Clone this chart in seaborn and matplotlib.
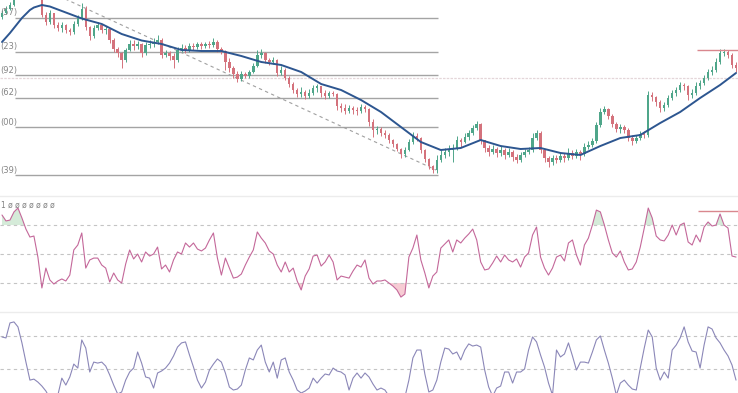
import numpy as np
import matplotlib
matplotlib.use("Agg")
import matplotlib.pyplot as plt
import matplotlib.transforms as mtransforms
import seaborn as sns

# candles (price units), open of each bar = previous close
first_open = 183
closes = [187, 191, 195, 205, 212, 218, 220, 217, 215, 208,
          185, 178, 187, 175, 172, 175, 170, 168, 176, 182,
          191, 173, 164, 172, 175, 170, 171, 160, 151, 147,
          140, 150, 156, 154, 156, 147, 155, 156, 158, 160,
          145, 147, 144, 140, 150, 152, 150, 154, 153, 156,
          154, 156, 155, 158, 151, 149, 138, 132, 126, 121,
          126, 124, 128, 134, 145, 147, 140, 138, 140, 127,
          130, 122, 116, 110, 106, 108, 104, 107, 112, 114,
          107, 104, 107, 106, 94, 92, 89, 92, 90, 89,
          93, 91, 78, 70, 71, 67, 65, 60, 56, 51,
          46, 50, 58, 64, 62, 50, 41, 34, 30, 40,
          45, 48, 50, 52, 60, 58, 63, 67, 72, 76,
          60, 52, 48, 51, 47, 50, 45, 48, 43, 40,
          45, 48, 50, 62, 67, 50, 42, 38, 42, 40,
          44, 42, 47, 44, 48, 46, 53, 55, 59, 75,
          88, 91, 84, 76, 71, 73, 70, 62, 59, 62,
          66, 65, 105, 103, 98, 92, 95, 102, 107, 110,
          115, 114, 105, 107, 114, 117, 122, 128, 130, 138,
          147, 148, 145, 135, 132]
highs = [190, 194, 198, 208, 215, 222, 224, 221, 218, 210,
         208, 188, 190, 187, 178, 178, 176, 172, 179, 185,
         197, 194, 174, 175, 178, 176, 174, 172, 162, 153,
         148, 152, 160, 160, 159, 157, 158, 160, 162, 165,
         162, 150, 149, 147, 153, 156, 155, 157, 157, 158,
         158, 158, 159, 162, 160, 153, 150, 142, 134, 129,
         129, 128, 130, 137, 150, 151, 148, 142, 143, 141,
         134, 132, 124, 118, 112, 113, 110, 111, 115, 116,
         114, 110, 109, 109, 107, 97, 96, 95, 94, 93,
         96, 95, 92, 81, 74, 73, 70, 67, 61, 57,
         52, 53, 61, 68, 67, 63, 51, 42, 35, 45,
         50, 52, 55, 56, 64, 62, 67, 70, 75, 79,
         77, 60, 55, 55, 53, 54, 52, 52, 50, 46,
         48, 51, 53, 67, 70, 69, 51, 44, 45, 45,
         47, 47, 52, 50, 51, 50, 57, 59, 62, 78,
         92, 94, 92, 86, 78, 76, 75, 72, 65, 65,
         69, 69, 109, 108, 104, 100, 98, 105, 110, 113,
         118, 117, 115, 111, 118, 120, 125, 131, 134, 142,
         151, 151, 150, 147, 138]
lows = [181, 186, 190, 194, 203, 210, 216, 215, 213, 206,
        183, 175, 176, 172, 169, 168, 167, 165, 166, 174,
        180, 170, 160, 162, 170, 167, 166, 157, 148, 143,
        132, 138, 149, 150, 151, 143, 145, 152, 153, 156,
        142, 143, 140, 132, 138, 148, 147, 148, 150, 151,
        151, 152, 152, 153, 148, 146, 130, 128, 122, 118,
        119, 122, 122, 127, 133, 142, 137, 135, 136, 124,
        125, 120, 113, 107, 103, 103, 101, 102, 105, 108,
        103, 101, 102, 104, 90, 88, 86, 87, 86, 85,
        87, 88, 74, 63, 66, 64, 62, 57, 53, 49,
        42, 43, 49, 56, 59, 47, 38, 31, 27, 27,
        38, 42, 44, 38, 50, 53, 57, 60, 65, 70,
        56, 48, 44, 46, 43, 44, 41, 43, 39, 37,
        38, 43, 46, 48, 60, 47, 38, 33, 35, 37,
        38, 38, 40, 41, 42, 40, 44, 51, 53, 57,
        73, 86, 81, 73, 68, 67, 67, 59, 55, 57,
        60, 62, 63, 99, 94, 88, 89, 93, 100, 104,
        108, 110, 100, 102, 105, 111, 115, 120, 125, 128,
        136, 144, 142, 132, 128]

# moving average
ma_bars = [0, 2, 5, 7, 8, 10, 12, 15, 17, 20,
           25, 30, 35, 40, 45, 50, 55, 60, 65, 70,
           75, 80, 85, 90, 95, 100, 105, 110, 115, 120,
           125, 130, 135, 140, 145, 150, 155, 160, 165, 170,
           175, 180, 184]
ma_values = [158, 167, 182, 190, 192.5, 195, 193.5, 189, 186, 181.5,
             176, 166, 159.5, 156, 150, 149, 149, 144, 138, 135,
             128, 116, 110, 100, 88, 73, 58, 50, 52, 60,
             54, 51, 52, 47, 45, 54, 62, 65, 77, 88,
             102, 115, 127]

rsi = [76.9, 72.8, 73.4, 79.0, 81.7, 74.8, 67.2, 61.7, 62.4, 47.9,
       26.6, 40.3, 32.1, 29.3, 31.4, 32.8, 31.4, 35.5, 52.8, 56.2,
       64.5, 40.3, 45.9, 47.2, 47.2, 42.4, 40.3, 30.7, 36.9, 32.1,
       30.0, 43.1, 52.8, 46.6, 50.0, 44.5, 51.4, 48.6, 50.0, 54.8,
       39.7, 42.4, 37.6, 45.9, 51.4, 50.0, 57.6, 54.8, 57.6, 53.4,
       52.1, 54.1, 59.7, 64.5, 47.2, 35.5, 47.2, 40.3, 33.4, 34.1,
       36.2, 42.4, 47.9, 52.8, 65.2, 61.0, 57.6, 52.1, 50.0, 42.4,
       37.6, 44.5, 37.6, 40.3, 31.4, 25.2, 34.8, 39.7, 48.6, 49.3,
       41.7, 44.5, 49.3, 44.5, 32.1, 34.8, 34.1, 33.4, 38.3, 42.4,
       41.0, 45.9, 33.4, 29.3, 31.4, 31.4, 32.1, 30.0, 27.9, 25.2,
       20.3, 22.4, 47.9, 54.1, 63.1, 45.9, 36.9, 26.6, 34.8, 37.6,
       54.1, 56.9, 59.7, 51.4, 59.7, 57.6, 61.0, 63.8, 67.2, 59.7,
       44.5, 39.0, 39.7, 43.8, 48.6, 44.5, 49.3, 45.9, 44.5, 46.6,
       41.0, 47.9, 50.7, 63.1, 68.6, 47.9, 40.3, 35.5, 40.3, 47.9,
       49.3, 45.2, 57.6, 59.7, 49.3, 42.4, 56.2, 61.0, 70.0, 80.3,
       79.0, 70.0, 59.7, 50.7, 47.9, 52.1, 44.5, 39.0, 39.7, 44.5,
       54.8, 67.9, 81.7, 74.8, 62.4, 59.7, 59.0, 63.1, 70.0, 63.1,
       70.0, 71.4, 58.3, 56.2, 63.1, 58.3, 68.6, 72.1, 69.3, 70.0,
       77.6, 70.0, 67.9, 48.6, 47.9]
rsi_levels = [70, 50, 30]

osc = [94, 88, 179, 185, 155, 58, -58, -167, -161, -179,
       -203, -233, -276, -300, -258, -155, -197, -148, -70, -94,
       76, 27, -118, -58, -64, -58, -82, -136, -197, -251,
       -239, -167, -118, -94, 3, -64, -148, -155, -215, -124,
       -112, -94, -64, -21, 33, 58, 64, -15, -88, -167,
       -215, -179, -106, -70, -39, -58, -124, -209, -227, -221,
       -197, -106, -33, -45, 15, 45, -58, -118, -58, -155,
       -45, -33, -118, -167, -227, -245, -233, -215, -155, -185,
       -155, -130, -136, -94, -112, -118, -136, -227, -155, -124,
       -155, -124, -148, -191, -227, -215, -227, -264, -288, -300,
       -288, -270, -167, -33, 15, 15, -130, -239, -227, -167,
       -58, 27, 21, -9, 3, -45, 15, 52, 39, 45,
       33, -106, -209, -264, -215, -203, -118, -118, -185, -118,
       -118, -100, 15, 94, 64, -15, -88, -185, -258, 15,
       -27, -9, 58, -21, -106, -58, -58, -64, 3, 76,
       100, 15, -64, -155, -258, -185, -167, -197, -221, -227,
       -94, 27, 136, 94, -94, -167, -118, -155, 15, 45,
       88, 155, 64, 9, 3, -94, 45, 155, 142, 88,
       58, 15, -21, -76, -167]
osc_levels = [100, -100]

fib_levels = [182, 148, 125, 102, 73, 25]
fib_labels = ["(57)", "(23)", "(92)", "(62)", "(00)", "(39)"]
fib_from, fib_to = 3.3, 109.3
trend_bars = [5, 108.8]
trend_prices = [221, 30]
hline_price = 122.5
resist_price, resist_from = 150, 174.2
rsi_mark, rsi_mark_from = 79.7, 174.5

GREEN = "#4fa68a"
RED = "#d4727c"

sns.set_style("white")
plt.rcParams['font.family'] = ['DejaVu Sans']

n = len(closes)
assert len(highs) == n and len(lows) == n and len(rsi) == n and len(osc) == n
bars = np.arange(n)
c = np.array(closes, dtype=float)
o = np.array([first_open] + closes[:-1], dtype=float)
colors = np.where(c >= o, GREEN, RED)

fig = plt.figure(figsize=(7.38, 3.93), dpi=100)
ax = fig.add_axes([0, 1 - 194 / 393, 1, 194 / 393])
ax_rsi = fig.add_axes([0, 1 - 310 / 393, 1, 114 / 393])
ax_osc = fig.add_axes([0, 0, 1, 81 / 393])

# main price panel
ax.hlines(fib_levels, fib_from, fib_to, colors="#a4a4a4", lw=1.0, zorder=1)
ax.axhline(hline_price, color="#e4d6d9", lw=0.9, ls=(0, (2, 1)), zorder=1)
ax.plot(trend_bars, trend_prices, color="#a0a0a0", lw=0.8, ls=(0, (3, 3)), zorder=1)
trans = mtransforms.blended_transform_factory(ax.transAxes, ax.transData)
for lvl, lab in zip(fib_levels, fib_labels):
    ax.text(0.001, lvl + 5, lab, transform=trans,
            ha="left", va="center", fontsize=6, color="#858585")

ax.vlines(bars, lows, highs, colors=colors, lw=0.7, zorder=2)
ax.bar(bars, np.maximum(np.abs(c - o), 0.8), bottom=np.minimum(o, c),
       width=0.62, color=colors, linewidth=0, zorder=3)
sns.lineplot(x=ma_bars, y=ma_values, ax=ax, color="#2d5690", lw=1.4, zorder=4)
ax.hlines(resist_price, resist_from, n, colors="#d9878e", lw=1.0, zorder=4)
ax.set_ylim(6, 200)

# RSI panel
r = np.array(rsi)
for lvl in rsi_levels:
    ax_rsi.axhline(lvl, color="#c4c4c4", lw=0.8, ls=(0, (3, 3)))
ax_rsi.fill_between(bars, r, 70, where=r > 70, interpolate=True, color="#d5ebd9", lw=0)
ax_rsi.fill_between(bars, r, 30, where=r < 30, interpolate=True, color="#f7ccd4", lw=0)
sns.lineplot(x=bars, y=r, ax=ax_rsi, color="#c4689a", lw=0.8)
ax_rsi.hlines(rsi_mark, rsi_mark_from, n, colors="#d9878e", lw=1.0)
ax_rsi.text(0.002, 0.92, "1 ø ø ø ø ø ø ø", transform=ax_rsi.transAxes,
            ha="left", va="center", fontsize=5.5, color="#808080")
ax_rsi.set_ylim(11.4, 90)

# oscillator panel
for lvl in osc_levels:
    ax_osc.axhline(lvl, color="#c4c4c4", lw=0.8, ls=(0, (3, 3)))
sns.lineplot(x=bars, y=osc, ax=ax_osc, color="#8b87b8", lw=0.8)
ax_osc.set_ylim(-245, 245)

for a in (ax, ax_rsi, ax_osc):
    a.set_xlim(-0.5, n - 0.5)
    a.set_xticks([])
    a.set_yticks([])
    a.set_xlabel("")
    a.set_ylabel("")
    a.patch.set_alpha(0)
    for s in a.spines.values():
        s.set_visible(False)
for a in (ax_rsi, ax_osc):
    a.spines["top"].set_visible(True)
    a.spines["top"].set_color("#ececec")
    a.spines["top"].set_linewidth(1.0)

fig.savefig("out.png", dpi=100)
